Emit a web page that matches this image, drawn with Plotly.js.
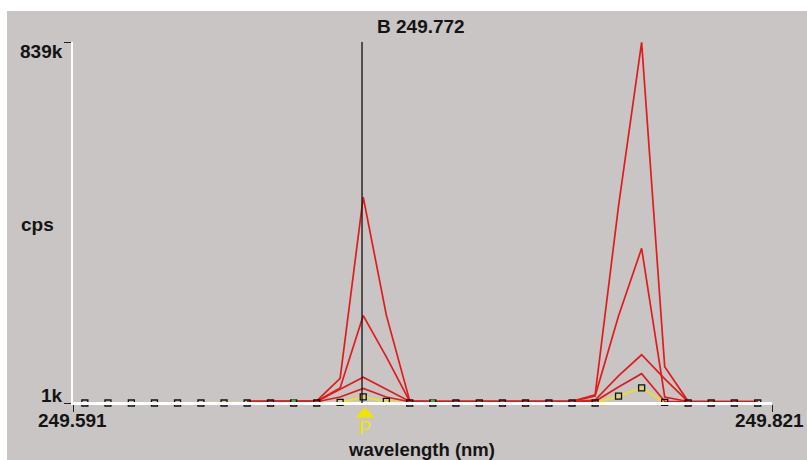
<!DOCTYPE html>
<html>
<head>
<meta charset="utf-8">
<script src="https://cdn.plot.ly/plotly-3.0.1.min.js"></script>
<style>
  html, body { margin: 0; padding: 0; background: #ffffff; width: 807px; height: 460px; overflow: hidden; }
  #chart { position: absolute; left: 7px; top: 11px; width: 800px; height: 449px; }
</style>
</head>
<body>
<div id="chart"></div>
<script>
// ---- data ----
var wavelengths = [249.5949, 249.6025, 249.6102, 249.6178, 249.6254, 249.6331, 249.6407, 249.6483, 249.6560, 249.6636,
                   249.6712, 249.6789, 249.6865, 249.6941, 249.7018, 249.7094, 249.7170, 249.7247, 249.7323, 249.7399,
                   249.7476, 249.7552, 249.7628, 249.7705, 249.7781, 249.7857, 249.7934, 249.8010, 249.8086, 249.8163];

var redA = [null, null, null, null, null, null, null, 5000, 5200, 5000,
            6000, 58000, 479000, 205000, 6000, 5000, 5200, 5000, 5000, 5200,
            5000, 5000, 20000, 458000, 838000, 85000, 5000, 5200, 4800, 4500];
var redB = [null, null, null, null, null, null, null, 4500, 4500, 4500,
            5000, 36000, 204000, 108000, 5000, 4500, 4500, 4500, 4500, 4500,
            4500, 4500, 17000, 203000, 360000, 15000, 4500, 4500, 4500, 4000];
var redC = [null, null, null, null, null, null, null, 4000, 4000, 4000,
            4500, 33000, 61000, 33000, 4500, 4000, 4000, 4000, 4000, 4000,
            4000, 4000, 8000, 64000, 113000, 57000, 4000, 4000, 4000, 3800];
var redD = [null, null, null, null, null, null, null, 3500, 3500, 3500,
            4000, 15000, 35000, 15000, 4000, 3500, 3500, 3500, 3500, 3500,
            3500, 3500, 5000, 38000, 69000, 5000, 3500, 3500, 3500, 3500];
var yellowP = [1000, 1000, 1000, 1000, 1000, 1000, 1000, 1000, 1000, 1000,
               1000, 2500, 15000, 5000, 1000, 1000, 1000, 1000, 1000, 1000,
               1000, 1000, 1000, 17000, 36000, 2500, 1000, 1000, 1000, 1000];
var greenWl = [249.6636, 249.7094];
var greenCps = [4500, 4500];

var xMin = 249.591, xMax = 249.821;
var yMin = 1000, yMax = 839000;
var cursorWl = 249.6861;
var cursorLabel = "B 249.772";
var peakMarkLabel = "P";
var yTickLabels = ["1k", "839k"];
var xTickLabels = ["249.591", "249.821"];
var xTitle = "wavelength (nm)";
var yTitle = "cps";

// ---- styling ----
var RED = "#e11b1b", YELLOW = "#f2e400", BG = "#c9c5c5";
var txtFont = { family: "Liberation Sans, Arial, sans-serif", size: 19, color: "#141414", weight: 700 };

function redTrace(y) {
  return { x: wavelengths, y: y, type: "scatter", mode: "lines",
           line: { color: RED, width: 1.7 }, connectgaps: false, hoverinfo: "skip" };
}

var traces = [
  { x: wavelengths, y: yellowP, type: "scatter", mode: "lines", line: { color: YELLOW, width: 1.6 }, hoverinfo: "skip" },
  redTrace(redD), redTrace(redC), redTrace(redB), redTrace(redA),
  { x: wavelengths, y: yellowP, type: "scatter", mode: "markers",
    marker: { symbol: "square-open", size: 6, color: "#111111", line: { width: 1.3, color: "#111111" } },
    hoverinfo: "skip", cliponaxis: false },
  { x: greenWl, y: greenCps, type: "scatter", mode: "markers",
    marker: { symbol: "square", size: 4, color: "#3fb03f" }, hoverinfo: "skip" }
];

var layout = {
  width: 800, height: 449,
  margin: { l: 66, r: 35, t: 31, b: 57, pad: 0 },
  paper_bgcolor: BG, plot_bgcolor: BG,
  showlegend: false,
  xaxis: {
    range: [xMin, xMax], showgrid: false, zeroline: false,
    showline: true, linecolor: "#ffffff", linewidth: 2,
    tickmode: "array", tickvals: [xMin, xMax], ticks: "outside", ticklen: 7, tickwidth: 1, tickcolor: "#222222",
    showticklabels: false, fixedrange: true
  },
  yaxis: {
    range: [yMin, yMax], showgrid: false, zeroline: false,
    showline: true, linecolor: "#ffffff", linewidth: 2,
    tickmode: "array", tickvals: [yMin, yMax], ticks: "outside", ticklen: 7, tickwidth: 1, tickcolor: "#222222",
    showticklabels: false, fixedrange: true
  },
  shapes: [
    // white baseline (axis) drawn over the flat yellow baseline
    { type: "line", xref: "paper", yref: "paper", x0: 0, x1: 1, y0: 0, y1: 0,
      line: { color: "#ffffff", width: 2 }, layer: "above" },
    { type: "line", xref: "x", yref: "paper", x0: cursorWl, x1: cursorWl, y0: 0, y1: 1,
      line: { color: "#111111", width: 1.3 }, layer: "above" },
    // yellow peak-marker triangle under the cursor
    { type: "path", xref: "x", yref: "paper", xsizemode: "pixel", ysizemode: "pixel",
      xanchor: cursorWl, yanchor: 0, path: "M -6 -14 L 12 -14 L 3 -5 Z",
      fillcolor: YELLOW, line: { color: YELLOW, width: 1 }, layer: "above" }
  ],
  annotations: [
    { text: yTickLabels[1], xref: "paper", yref: "paper", x: -0.0114, y: 0.9723, xanchor: "right", yanchor: "middle", showarrow: false, font: txtFont },
    { text: yTickLabels[0], xref: "paper", yref: "paper", x: -0.0114, y: 0.0194, xanchor: "right", yanchor: "middle", showarrow: false, font: txtFont },
    { text: xTickLabels[0], xref: "paper", yref: "paper", x: -0.0014, y: -0.0471, xanchor: "center", yanchor: "middle", showarrow: false, font: txtFont },
    { text: xTickLabels[1], xref: "paper", yref: "paper", x: 0.9971, y: -0.0471, xanchor: "center", yanchor: "middle", showarrow: false, font: txtFont },
    { text: yTitle, xref: "paper", yref: "paper", x: -0.0515, y: 0.4958, xanchor: "center", yanchor: "middle", showarrow: false, font: txtFont },
    { text: xTitle, xref: "paper", yref: "paper", x: 0.4986, y: -0.1275, xanchor: "center", yanchor: "middle", showarrow: false,
      font: { family: "Liberation Sans, Arial, sans-serif", size: 18.5, color: "#141414", weight: 700 } },
    { text: cursorLabel, xref: "paper", yref: "paper", x: 0.4979, y: 1.0416, xanchor: "center", yanchor: "middle", showarrow: false, font: txtFont },
    { text: peakMarkLabel, xref: "x", yref: "paper", x: cursorWl, xshift: 3, y: -0.0690, xanchor: "center", yanchor: "middle", showarrow: false,
      font: { family: "Liberation Sans, Arial, sans-serif", size: 18, color: YELLOW } }
  ]
};

Plotly.newPlot("chart", traces, layout, { displayModeBar: false, staticPlot: true });
</script>
</body>
</html>
